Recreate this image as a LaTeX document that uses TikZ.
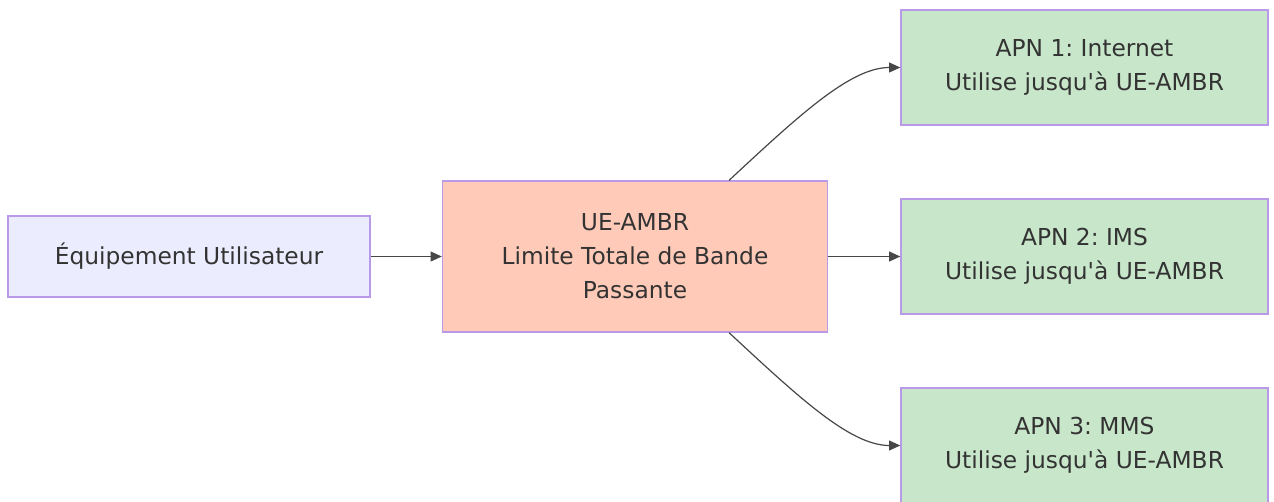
\documentclass[tikz,border=0pt]{standalone}
\usepackage{fontspec}
\setmainfont{DejaVu Sans}
\usetikzlibrary{arrows.meta}
\definecolor{boxline}{HTML}{B89AE8}
\definecolor{uefill}{HTML}{ECECFF}
\definecolor{ambrfill}{HTML}{FFCAB8}
\definecolor{apnfill}{HTML}{C8E6C9}
\definecolor{txt}{HTML}{333333}
\tikzset{
    box/.style={draw=boxline, line width=1pt, align=center, text=txt,
        font=\fontsize{17.5pt}{25.5pt}\selectfont\frenchspacing, inner sep=0pt},
    link/.style={draw=txt!90, line width=0.9pt, -{Triangle[length=8.5pt,width=7.5pt]}}
}
\begin{document}
\begin{tikzpicture}[x=0.75pt,y=-0.75pt]
    \useasboundingbox (0,0) rectangle (1274,501);
    \node[box, fill=uefill, minimum width=271.5pt, minimum height=60.75pt] (ue) at (189,256.5) {Équipement Utilisateur};
    \node[box, fill=ambrfill, minimum width=288.75pt, minimum height=113.25pt] (ambr) at (635,256.5) {UE-AMBR\\Limite Totale de Bande\\Passante};
    \node[box, fill=apnfill, minimum width=275.25pt, minimum height=86.25pt] (apn1) at (1084.5,67.5) {APN 1: Internet\\Utilise jusqu\textquotesingle à UE-AMBR};
    \node[box, fill=apnfill, minimum width=275.25pt, minimum height=86.25pt] (apn2) at (1084.5,256.5) {APN 2: IMS\\Utilise jusqu\textquotesingle à UE-AMBR};
    \node[box, fill=apnfill, minimum width=275.25pt, minimum height=86.25pt] (apn3) at (1084.5,445.5) {APN 3: MMS\\Utilise jusqu\textquotesingle à UE-AMBR};
    % connectors
    \draw[link] (ue.east) -- (ambr.west);
    \draw[link] (ambr.east) -- (apn2.west);
    \draw[link] (ambr.39) .. controls +(70,-65) and +(-50,0) .. (apn1.west);
    \draw[link] (ambr.-39) .. controls +(70,65) and +(-50,0) .. (apn3.west);
\end{tikzpicture}
\end{document}
